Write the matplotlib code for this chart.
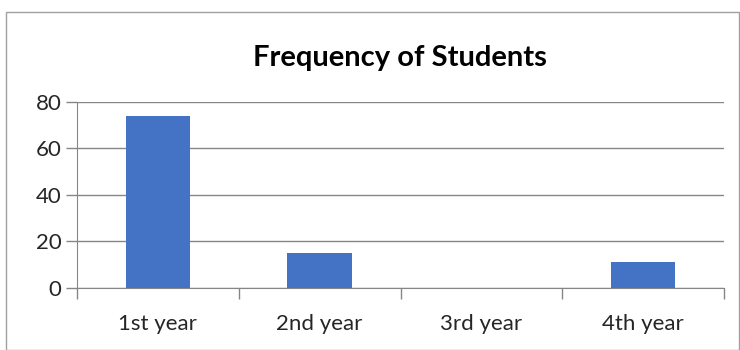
import matplotlib.pyplot as plt
from matplotlib.patches import Rectangle

# data
categories = ['1st year', '2nd year', '3rd year', '4th year']
frequency = [74, 15, 0, 11]
y_ticks = [0, 20, 40, 60, 80]

plt.rcParams['font.family'] = ['Lato', 'DejaVu Sans']

fig = plt.figure(figsize=(7.4, 3.5), dpi=100)
ax = fig.add_axes([77 / 740, 62.5 / 350, (724 - 77) / 740, 185.5 / 350])

x = range(len(categories))
ax.bar(x, frequency, width=0.4, color='#4472C4', zorder=3)

ax.set_xlim(-0.5, len(categories) - 0.5)
ax.set_ylim(0, 80)
ax.set_yticks(y_ticks)
ax.set_xticks(list(x))
ax.set_xticklabels(categories)

# category separators on the x axis
ax.set_xticks([i - 0.5 for i in range(len(categories) + 1)], minor=True)
ax.tick_params(axis='x', which='major', length=0, pad=19, labelsize=16, labelcolor='#262626')
ax.tick_params(axis='x', which='minor', length=8, width=1, color='#868686')
ax.tick_params(axis='y', length=8, width=1, color='#868686', pad=3, labelsize=16, labelcolor='#262626')

ax.grid(axis='y', color='#868686', linewidth=1, zorder=0)
for side in ['top', 'right']:
    ax.spines[side].set_visible(False)
ax.spines['left'].set_color('#868686')
ax.spines['bottom'].set_color('#868686')

fig.text(0.541, 0.834, 'Frequency of Students', ha='center', va='center',
         fontsize=21, fontweight='bold', color='#000000')

# outer chart border
fig.patches.append(Rectangle((6 / 740, 0), 733 / 740, 338 / 350, transform=fig.transFigure,
                             fill=False, edgecolor='#A0A0A0', linewidth=1))

fig.savefig('out.png', dpi=100)
